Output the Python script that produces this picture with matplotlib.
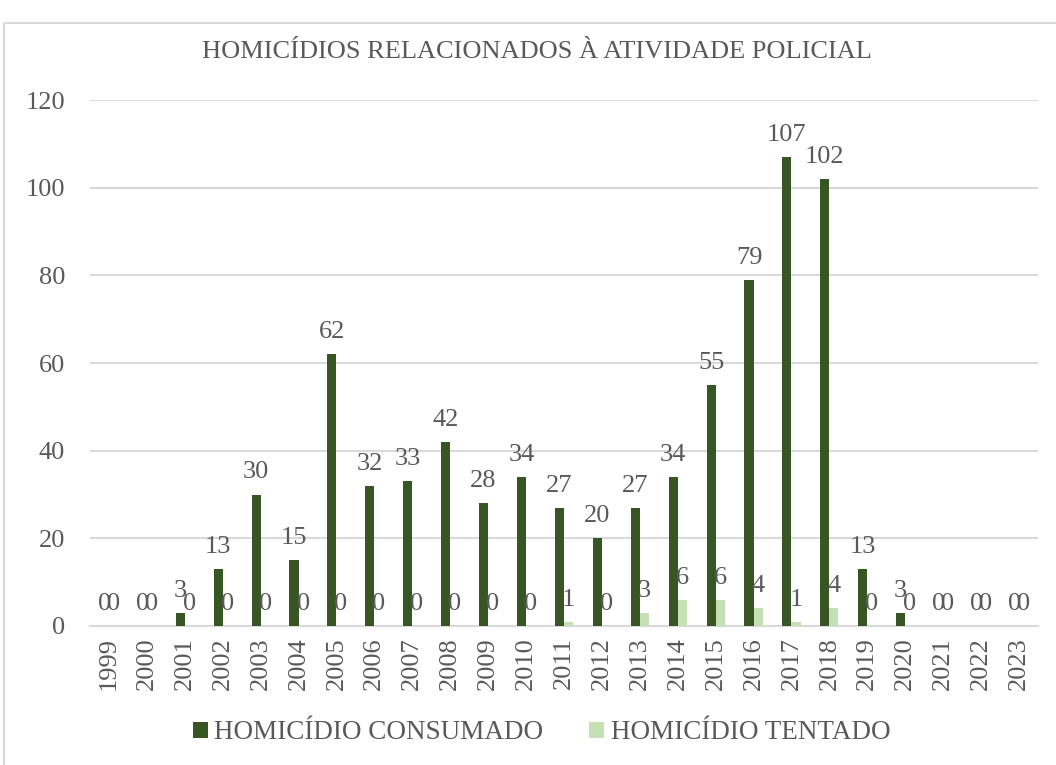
import matplotlib.pyplot as plt
import matplotlib.patches as mpatches
import numpy as np

plt.rcParams['font.family'] = ['Liberation Serif', 'DejaVu Serif']

anos = ['1999', '2000', '2001', '2002', '2003', '2004', '2005', '2006', '2007', '2008',
        '2009', '2010', '2011', '2012', '2013', '2014', '2015', '2016', '2017', '2018',
        '2019', '2020', '2021', '2022', '2023']
consumado = [0, 0, 3, 13, 30, 15, 62, 32, 33, 42, 28, 34, 27, 20, 27, 34, 55, 79, 107, 102,
             13, 3, 0, 0, 0]
tentado = [0, 0, 0, 0, 0, 0, 0, 0, 0, 0, 0, 0, 1, 0, 3, 6, 6, 4, 1, 4, 0, 0, 0, 0, 0]

escuro = '#375623'
claro = '#C5E0B4'
cinza = '#595959'

fig = plt.figure(figsize=(10.56, 7.65), dpi=100)
ax = fig.add_axes([0.0852, 0.1817, 0.8977, 0.6873])

# moldura cinza do grafico
fig.patches.append(mpatches.Rectangle((0.004, -0.01), 1.1, 0.99 - 0.0096, transform=fig.transFigure,
                                      fill=False, edgecolor='#D9D9D9', linewidth=1.5))

x = np.arange(len(anos))
w = 0.24
b1 = ax.bar(x - w / 2, consumado, w, color=escuro, label='HOMICÍDIO CONSUMADO', zorder=3)
b2 = ax.bar(x + w / 2, tentado, w, color=claro, label='HOMICÍDIO TENTADO', zorder=3)

for bars, vals in ((b1, consumado), (b2, tentado)):
    for r, v in zip(bars, vals):
        ax.annotate(str(v), (r.get_x() + r.get_width() / 2, v), xytext=(0, 8),
                    textcoords='offset points', ha='center', va='bottom',
                    fontsize=19, color=cinza)

ax.set_ylim(0, 120)
ax.set_xlim(-0.5, len(anos) - 0.5)
ax.set_yticks(range(0, 121, 20))
ax.set_xticks(x)
ax.set_xticklabels(anos, rotation=90)
ax.tick_params(axis='both', length=0, labelsize=19, labelcolor=cinza)
ax.tick_params(axis='y', pad=18)
ax.tick_params(axis='x', pad=8)
ax.grid(axis='y', color='#D9D9D9', linewidth=1.5, zorder=0)
for s in ('top', 'right', 'left'):
    ax.spines[s].set_visible(False)
ax.spines['bottom'].set_color('#D9D9D9')
ax.spines['bottom'].set_linewidth(1.5)

fig.text(0.508, 0.932, 'HOMICÍDIOS RELACIONADOS À ATIVIDADE POLICIAL', ha='center', va='center',
         fontsize=19, color=cinza)

fig.legend(handles=[b1, b2], loc='center', bbox_to_anchor=(0.513, 0.042), ncol=2, frameon=False,
           fontsize=19.5, labelcolor=cinza, handlelength=0.55, handleheight=0.55, handletextpad=0.25,
           columnspacing=1.7)

fig.savefig('out.png', dpi=100)
